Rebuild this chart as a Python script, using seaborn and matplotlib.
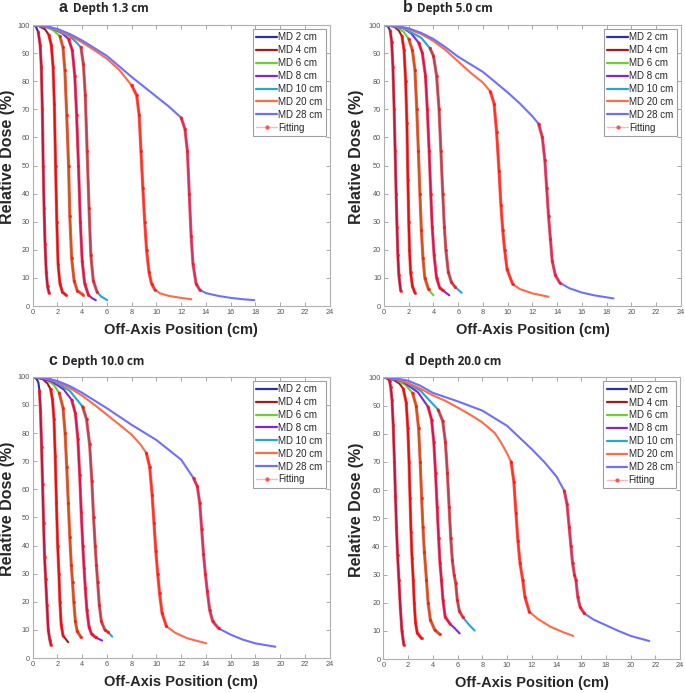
import pandas as pd
import seaborn as sns
import matplotlib.pyplot as plt
from matplotlib.lines import Line2D

fields = [2, 4, 6, 8, 10, 20, 28]
depths = ['1.3', '5.0', '10.0', '20.0']
letters = ['a', 'b', 'c', 'd']
colors = ['#2e2ea8', '#a3191c', '#6ccf2a', '#8424d8', '#22a6d6', '#ff6b45', '#6f6fff']

# panel a, depth 1.3 cm  (off-axis cm, relative dose %)
a_md2 = [(0, 100), (0.25, 99.5), (0.45, 97.5), (0.6, 93), (0.7, 85), (0.78, 70), (0.85, 50),
         (0.92, 35), (1.0, 22), (1.1, 12), (1.2, 7), (1.32, 4.7)]
a_md4 = [(0, 100), (0.5, 99.6), (1.0, 98.5), (1.3, 96.5), (1.5, 93), (1.65, 85), (1.75, 72),
         (1.85, 50), (1.95, 30), (2.05, 15), (2.2, 8), (2.4, 5), (2.69, 3.9)]
a_md6 = [(0, 100), (1, 99.5), (1.7, 98), (2.2, 96), (2.45, 92), (2.6, 84), (2.75, 68), (2.9, 50),
         (3.0, 32), (3.15, 17), (3.35, 9), (3.6, 5.5), (4.03, 4.1)]
a_md8 = [(0, 100), (1.5, 99), (2.4, 97), (2.9, 95), (3.2, 91), (3.4, 82), (3.55, 68), (3.7, 50),
         (3.85, 30), (4.0, 16), (4.2, 8), (4.5, 4), (4.8, 2.8), (5.1, 2.1)]
a_md10 = [(0, 100), (1.5, 99), (3, 96), (3.6, 93.5), (3.9, 92), (4.1, 86), (4.25, 75), (4.4, 55),
          (4.55, 35), (4.7, 18), (4.9, 9), (5.2, 5), (5.5, 3.5), (6.02, 2.1)]
a_md20 = [(0, 100), (1, 99.6), (2, 98.3), (3, 96.3), (4, 93.8), (5, 91), (6, 88), (7, 84), (8, 78.5),
          (8.4, 75), (8.6, 68), (8.75, 55), (8.9, 42), (9.05, 30), (9.2, 20), (9.4, 12), (9.6, 8),
          (9.87, 5.8), (10.3, 4.5), (11, 3.6), (12, 2.9), (12.82, 2.4)]
a_md28 = [(0, 100), (1, 99.7), (2, 98.6), (3, 96.8), (4, 94.5), (6, 89), (8, 81.5), (10, 74.5),
          (11, 71), (12, 67), (12.3, 63), (12.5, 55), (12.65, 40), (12.8, 25), (12.95, 15),
          (13.2, 8), (13.5, 5.7), (14, 4.6), (15, 3.6), (16, 2.9), (17, 2.4), (17.9, 2.1)]
a_fit = [(0.3, 1.32), (1.3, 2.69), (2.2, 4.03), (2.9, 4.5), (3.9, 5.2), (8.0, 9.9), (12.0, 13.5)]

# panel b, depth 5.0 cm
b_md2 = [(0, 100), (0.3, 99.6), (0.5, 98), (0.62, 94), (0.72, 85), (0.82, 70), (0.9, 55), (0.98, 40),
         (1.05, 28), (1.12, 18), (1.2, 11), (1.35, 5.4)]
b_md4 = [(0, 100), (0.8, 99.5), (1.2, 98), (1.45, 96), (1.62, 91), (1.75, 80), (1.85, 65), (1.93, 45),
         (2.0, 30), (2.06, 20), (2.15, 12), (2.3, 7), (2.5, 4.7)]
b_md6 = [(0, 100), (1, 99.5), (1.6, 97.5), (2.0, 95), (2.3, 91), (2.5, 84), (2.65, 70), (2.78, 55),
         (2.9, 40), (3.02, 27), (3.15, 17), (3.3, 10), (3.6, 5.9), (3.99, 3.8)]
b_md8 = [(0, 100), (1.5, 99), (2.2, 97), (2.8, 93.7), (3.1, 90), (3.35, 82), (3.5, 70), (3.65, 55),
         (3.78, 40), (3.9, 28), (4.05, 18), (4.25, 10), (4.5, 6.5), (4.74, 5.6), (5.28, 3.8)]
b_md10 = [(0, 100), (1.5, 99), (3, 95.5), (3.72, 91.7), (4.0, 89), (4.25, 82), (4.45, 70), (4.6, 55),
          (4.75, 40), (4.88, 28), (5.0, 20), (5.2, 12), (5.45, 8.5), (5.74, 6.8), (6.28, 4.7)]
b_md20 = [(0, 100), (1, 99.6), (2, 98.5), (3, 96.8), (4, 94.3), (5, 91), (6, 87), (7, 83), (8, 79.5),
          (8.6, 76.3), (8.9, 72), (9.1, 62), (9.3, 48), (9.45, 36), (9.6, 27), (9.75, 20),
          (9.95, 13), (10.4, 7.8), (11, 6), (12, 4.5), (13.3, 3.3)]
b_md28 = [(0, 100), (1, 99.7), (2, 98.8), (3, 97.2), (4, 95), (5, 92), (6, 88.7), (8, 83.3), (10, 76),
          (11, 72), (12, 67.5), (12.5, 64.8), (12.8, 60), (13.0, 52), (13.15, 42), (13.3, 32),
          (13.45, 24), (13.6, 16), (13.85, 11), (14.2, 8.3), (15, 6.3), (16, 4.8), (17, 3.8),
          (18.55, 2.7)]
b_fit = [(0.4, 1.35), (1.4, 2.5), (2.0, 3.6), (2.8, 4.74), (3.7, 5.74), (8.6, 10.4), (12.5, 14.2)]

# panel c, depth 10.0 cm
c_md2 = [(0, 100), (0.3, 99.3), (0.46, 98), (0.55, 95), (0.63, 88), (0.72, 75), (0.8, 62), (0.88, 48),
         (0.96, 36), (1.05, 28), (1.15, 19), (1.26, 10), (1.38, 6.5), (1.48, 4.6)]
c_md4 = [(0, 100), (0.8, 99.2), (1.2, 97.6), (1.45, 95.5), (1.6, 92), (1.72, 85), (1.82, 72),
         (1.92, 55), (2.02, 40), (2.12, 30), (2.2, 20), (2.3, 12), (2.45, 8), (2.87, 5.6)]
c_md6 = [(0, 100), (1, 99.2), (1.7, 97.2), (2.15, 94.2), (2.45, 89), (2.62, 80), (2.75, 68),
         (2.88, 55), (3.0, 43), (3.12, 33), (3.22, 27), (3.32, 20), (3.45, 13), (3.6, 9.5), (3.9, 7.4)]
c_md8 = [(0, 100), (1.5, 98.5), (2.5, 95.5), (3.15, 91.8), (3.45, 87), (3.65, 78), (3.8, 65),
         (3.92, 52), (4.05, 40), (4.15, 32), (4.25, 25), (4.38, 17), (4.55, 11), (4.76, 8.5),
         (5.1, 7.3), (5.61, 6.2)]
c_md10 = [(0, 100), (1.5, 99), (3, 95), (4.03, 89.4), (4.35, 85), (4.6, 76), (4.78, 63), (4.92, 50),
          (5.05, 40), (5.15, 33), (5.25, 27), (5.38, 19), (5.55, 13), (5.83, 10), (6.1, 9.2),
          (6.42, 7.6)]
c_md20 = [(0, 100), (1, 99.5), (2, 98.2), (3, 96), (4, 93.3), (5, 90), (6, 86.5), (7, 83), (8, 79.4),
          (8.7, 76), (9.19, 72.8), (9.45, 68), (9.65, 58), (9.8, 48), (9.95, 38), (10.1, 30),
          (10.25, 23), (10.45, 16), (10.8, 11.3), (11.5, 9), (12.5, 7), (14.03, 5.2)]
c_md28 = [(0, 100), (1, 99.6), (2, 98.5), (3, 96.7), (4, 94.3), (6, 88.8), (8, 82.9), (10, 77.5),
          (12, 70.5), (13.0, 63.9), (13.3, 61), (13.5, 55), (13.65, 46), (13.8, 37), (13.95, 30),
          (14.1, 24), (14.3, 17), (14.55, 13), (15.03, 10.5), (16, 8.3), (17, 6.5), (18, 5.2),
          (19.6, 4.0)]
c_fit = [(0.5, 1.48), (1.4, 2.5), (2.15, 3.9), (3.15, 5.1), (4.03, 6.1), (9.19, 10.9), (13.0, 15.03)]

# panel d, depth 20.0 cm
d_md2 = [(0, 100), (0.3, 99.6), (0.5, 98.8), (0.6, 96.5), (0.7, 92), (0.8, 83), (0.9, 70), (0.98, 58),
         (1.06, 47), (1.15, 37), (1.26, 28), (1.38, 18), (1.5, 10), (1.66, 5)]
d_md4 = [(0, 100), (0.8, 99.2), (1.3, 97.8), (1.61, 96), (1.85, 91), (1.98, 82), (2.08, 70),
         (2.16, 57), (2.24, 45), (2.32, 36), (2.42, 28), (2.5, 20), (2.6, 13), (2.74, 9.3), (3.09, 7.3)]
d_md6 = [(0, 100), (1, 99.2), (1.8, 97.3), (2.36, 94.4), (2.65, 90), (2.85, 82), (2.98, 70), (3.1, 57),
         (3.2, 47), (3.32, 38), (3.49, 28), (3.62, 20), (3.8, 14), (4.16, 10.3), (4.56, 8.8)]
d_md8 = [(0, 100), (1.5, 98.7), (2.8, 94.7), (3.62, 89.5), (3.9, 85), (4.08, 77), (4.22, 66),
         (4.35, 54), (4.47, 43), (4.58, 34), (4.7, 28), (4.82, 21), (5.0, 15), (5.37, 12.6),
         (5.8, 10.8), (6.17, 9.1)]
d_md10 = [(0, 100), (1.5, 99), (3, 95.3), (4.43, 88.5), (4.8, 84.5), (5.02, 77), (5.18, 66),
          (5.32, 54), (5.45, 43), (5.58, 35), (5.72, 30), (5.85, 27), (5.98, 21), (6.15, 17),
          (6.44, 14.8), (6.9, 12.3), (7.38, 10.1)]
d_md20 = [(0, 100), (1, 99.5), (2, 98), (3, 96), (4, 93.6), (5, 91.7), (6, 89.3), (7, 86.8), (8, 84),
          (9, 80.3), (9.5, 77), (10, 73), (10.33, 70), (10.55, 63), (10.72, 52), (10.88, 42),
          (11.05, 34), (11.27, 28), (11.45, 22), (11.8, 16.8), (12.5, 14.2), (13.5, 11.5),
          (14.5, 9.6), (15.36, 8.2)]
d_md28 = [(0, 100), (1, 99.7), (2, 98.8), (3, 97), (4, 94.5), (5, 93), (6, 91.5), (8, 88.2),
          (10, 82.8), (12, 74.5), (13, 70), (14, 64.8), (14.63, 59.7), (14.85, 55), (15.02, 47),
          (15.17, 40), (15.3, 34), (15.45, 30), (15.57, 28), (15.72, 22), (15.9, 18.5),
          (16.24, 16.2), (17, 14), (18, 12), (19, 10), (20, 8.2), (21.5, 6.4)]
d_fit = [(0.5, 1.66), (1.6, 3.09), (2.36, 4.56), (3.62, 5.37), (4.43, 6.44), (10.33, 11.8), (14.63, 16.24)]

curves = {
    'a': [a_md2, a_md4, a_md6, a_md8, a_md10, a_md20, a_md28],
    'b': [b_md2, b_md4, b_md6, b_md8, b_md10, b_md20, b_md28],
    'c': [c_md2, c_md4, c_md6, c_md8, c_md10, c_md20, c_md28],
    'd': [d_md2, d_md4, d_md6, d_md8, d_md10, d_md20, d_md28],
}
fits = {'a': a_fit, 'b': b_fit, 'c': c_fit, 'd': d_fit}

labels = ['MD {} cm'.format(f) for f in fields]
pal = dict(zip(labels, colors))

rows = []
for p in letters:
    for lab, pts, (lo, hi) in zip(labels, curves[p], fits[p]):
        for x, y in pts:
            rows.append((p, lab, x, y, lo <= x <= hi))
df = pd.DataFrame(rows, columns=['panel', 'field', 'x', 'y', 'fit'])

sns.set_style('ticks')
plt.rcParams['font.family'] = ['Liberation Sans', 'DejaVu Sans']

fig = plt.figure(figsize=(6.85, 6.93), dpi=100)
boxes = {
    'a': [0.0477, 0.5584, 0.4337, 0.4055],
    'b': [0.5606, 0.5584, 0.4334, 0.4055],
    'c': [0.0477, 0.0505, 0.4337, 0.4058],
    'd': [0.5596, 0.0490, 0.4334, 0.4065],
}
title_pos = {'a': (0.085, 0.983), 'b': (0.588, 0.983), 'c': (0.070, 0.474), 'd': (0.590, 0.474)}
ylab_x = {'a': -0.058, 'b': -0.066, 'c': -0.058, 'd': -0.066}

for p, depth in zip(letters, depths):
    ax = fig.add_axes(boxes[p])
    part = df[df['panel'] == p]
    sns.lineplot(data=part, x='x', y='y', hue='field', hue_order=labels, palette=pal,
                 sort=False, estimator=None, lw=1.5, legend=False, ax=ax)
    sns.lineplot(data=part[part['fit']], x='x', y='y', units='field', estimator=None,
                 sort=False, color='#ff1010', lw=2.3, alpha=0.62, marker='.', ms=3,
                 mec='#ff1010', ax=ax)

    ax.set_xlim(0, 24)
    ax.set_ylim(0, 100)
    ax.set_xticks(range(0, 25, 2))
    ax.set_yticks(range(0, 101, 10))
    ax.tick_params(direction='in', length=3, width=0.6, color='#9a9a9a', labelcolor='#555555',
                   labelsize=5.3, top=True, right=True, pad=2)
    for s in ax.spines.values():
        s.set_visible(True)
        s.set_color('#b0b0b0')
        s.set_linewidth(0.8)
    ax.set_xlabel('Off-Axis Position (cm)', fontsize=10.5, fontweight='bold', labelpad=5)
    ax.set_ylabel('Relative Dose (%)', fontsize=11.5, fontweight='bold')
    ax.yaxis.set_label_coords(ylab_x[p], 0.53)

    handles = [Line2D([], [], color=c, lw=1.6) for c in colors]
    handles.append(Line2D([], [], color='#ffb8b8', lw=1, marker='.', ms=4,
                          mfc='#ff5050', mec='#ff5050'))
    leg = ax.legend(handles, labels + ['Fitting'], loc='upper right', fontsize=7,
                    labelspacing=0.3, handlelength=2.1, handletextpad=0.15,
                    borderpad=0.35, borderaxespad=0.4, fancybox=False, framealpha=1)
    leg.get_frame().set_edgecolor('#a0a0a0')
    leg.get_frame().set_linewidth(0.8)

    tx, ty = title_pos[p]
    fig.text(tx, ty, p, fontsize=11.5, fontweight='bold', va='baseline')
    fig.text(tx + 0.021, ty, 'Depth {} cm'.format(depth), fontsize=8.5, fontweight='bold',
             family=['Open Sans', 'DejaVu Sans'], va='baseline')

fig.savefig('out.png', dpi=100)
